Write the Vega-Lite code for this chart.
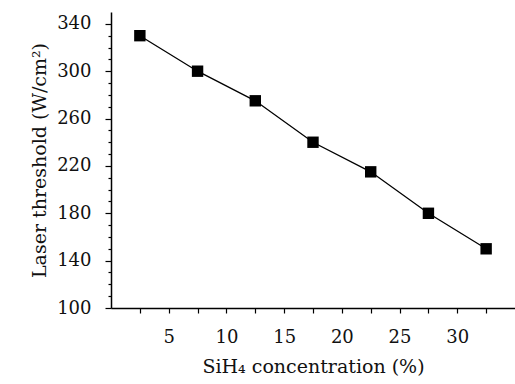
{
  "$schema": "https://vega.github.io/schema/vega-lite/v6.json",
  "width": 404,
  "height": 296,
  "autosize": "none",
  "padding": {"left": 111, "top": 12, "right": 0, "bottom": 76},
  "background": "white",
  "config": {
    "view": {"stroke": null},
    "font": "DejaVu Serif",
    "axis": {
      "domainColor": "black",
      "domainWidth": 1.5,
      "tickColor": "black",
      "tickWidth": 1.2,
      "labelColor": "#111",
      "titleColor": "#111",
      "labelFont": "DejaVu Serif",
      "titleFont": "DejaVu Serif",
      "labelFontSize": 18,
      "titleFontSize": 19,
      "titleFontWeight": "normal",
      "grid": false
    }
  },
  "data": {
    "values": [
      {"c": 2.5, "t": 330},
      {"c": 7.5, "t": 300},
      {"c": 12.5, "t": 275},
      {"c": 17.5, "t": 240},
      {"c": 22.5, "t": 215},
      {"c": 27.5, "t": 180},
      {"c": 32.5, "t": 150}
    ]
  },
  "encoding": {
    "x": {
      "field": "c",
      "type": "quantitative",
      "scale": {"domain": [0, 35], "nice": false, "zero": false},
      "axis": {
        "title": "SiH₄ concentration (%)",
        "values": [2.5, 5, 7.5, 10, 12.5, 15, 17.5, 20, 22.5, 25, 27.5, 30, 32.5],
        "labelExpr": "datum.value % 5 === 0 ? datum.label : ''",
        "tickSize": 5,
        "labelPadding": 15,
        "titlePadding": 11
      }
    },
    "y": {
      "field": "t",
      "type": "quantitative",
      "scale": {"domain": [100, 350], "nice": false, "zero": false},
      "axis": {
        "title": "Laser threshold (W/cm²)",
        "values": [100, 110, 120, 130, 140, 150, 160, 170, 180, 190, 200, 210, 220, 230, 240, 250, 260, 270, 280, 290, 300, 310, 320, 330, 340],
        "labelExpr": "(datum.value - 100) % 40 === 0 ? datum.label : ''",
        "tickSize": {"condition": {"test": "(datum.value - 100) % 40 === 0", "value": 6}, "value": 3},
        "labelPadding": 14,
        "titlePadding": 7
      }
    }
  },
  "layer": [
    {"mark": {"type": "line", "color": "black", "strokeWidth": 1.3}},
    {"mark": {"type": "square", "size": 130, "color": "black", "filled": true, "opacity": 1}}
  ]
}
